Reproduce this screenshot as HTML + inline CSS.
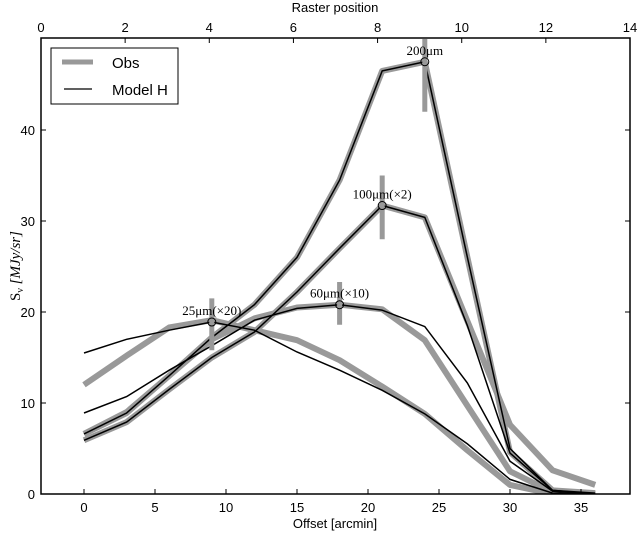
<!DOCTYPE html>
<html><head><meta charset="utf-8"><style>
html,body{margin:0;padding:0;background:#fff;}
svg{display:block;font-family:"Liberation Sans",sans-serif;}
</style></head><body>
<svg id="chart" width="638" height="534" viewBox="0 0 638 534" xmlns="http://www.w3.org/2000/svg"></svg>
<script>
const offsets=[0,3,6,9,12,15,18,21,24,27,30,33,36];
const obs200=[6.6,8.9,13,17.2,20.8,26,34.5,46.5,47.5,26,4.6,0.4,0.1];
const mod200=[6.6,8.9,13,17.2,20.8,26,34.5,46.5,47.5,26,5,0.4,0.1];
const obs100=[5.9,7.9,11.5,15,17.8,22.2,27,31.7,30.4,19,7.6,2.6,1];
const mod100=[5.9,7.9,11.5,15,17.8,22.2,27,31.7,30.4,18.5,4.5,0.4,0];
const obs60=[6.6,9,13,17,19.3,20.5,20.8,20.3,16.9,9.7,2.5,0.2,0];
const mod60=[8.9,10.7,13.6,16.3,19.1,20.4,20.8,20.2,18.4,12.2,3.6,0.3,0];
const obs25=[12,15.2,18.3,19.1,18,16.9,14.7,11.8,8.8,4.8,1,0,0];
const mod25=[15.5,17,18,18.9,18,15.6,13.6,11.4,8.8,5.5,1.6,0.1,0];
const peakIdx=[8,7,6,3];
const peakLabels=["200μm","100μm(×2)","60μm(×10)","25μm(×20)"];
const errLo=[42,28,18.6,15.8];
const errHi=[50,35,23.3,21.5];
const xTicks=[0,5,10,15,20,25,30,35];
const yTicks=[0,10,20,30,40];
const topTicks=[0,2,4,6,8,10,12,14];

const L=41,R=630,T=38,B=494;
const sx=v=>84+14.2*v;
const sy=v=>494-9.1*v;
const stx=v=>L+(R-L)*v/14;
const svg=document.getElementById('chart');
const NS='http://www.w3.org/2000/svg';
function mk(tag,attrs,parent){const e=document.createElementNS(NS,tag);for(const k in attrs)e.setAttribute(k,attrs[k]);(parent||svg).appendChild(e);return e;}
function txt(s,attrs,parent){const e=mk('text',attrs,parent);e.textContent=s;return e;}

const plot=mk('g',{});


const clip=mk('clipPath',{id:'cp'});mk('rect',{x:L,y:T,width:R-L,height:B-T},clip);
const series=[[obs200,mod200,'200'],[obs100,mod100,'100'],[obs60,mod60,'60'],[obs25,mod25,'25']];
const pts=a=>a.map((v,i)=>sx(offsets[i]).toFixed(1)+','+sy(v).toFixed(1)).join(' ');
series.forEach(s=>{
  const g=mk('polyline',{points:pts(s[0]),fill:'none',stroke:'#999',"stroke-width":6,"stroke-linejoin":'round','clip-path':'url(#cp)'},plot);
  
  
});
series.forEach(s=>{
  const g=mk('polyline',{points:pts(s[1]),fill:'none',stroke:'#000',"stroke-width":1.5,'clip-path':'url(#cp)'},plot);
  
  
});
series.forEach((s,k)=>{
  const i=peakIdx[k],x=sx(offsets[i]);
  const eb=mk('line',{x1:x,x2:x,y1:sy(errLo[k]),y2:Math.max(T,sy(errHi[k])),stroke:'#999',"stroke-width":5},plot);
  
  
  const c=mk('circle',{cx:x,cy:sy(s[1][i]),r:4,fill:'none',stroke:'#000',"stroke-width":1},plot);
  
  
  const t=txt(peakLabels[k],{x:x,y:sy(s[1][i])-7,"text-anchor":'middle',"font-size":13,"font-family":'"Liberation Serif",serif'},plot);
  
  
});

const frame=mk('rect',{x:L,y:T,width:R-L,height:B-T,fill:'none',stroke:'#000',"stroke-width":1.5});


xTicks.forEach(v=>{const x=sx(v);mk('line',{x1:x,x2:x,y1:B,y2:B-5,stroke:'#000'});
  const t=txt(String(v),{x:x,y:B+18,"text-anchor":'middle',"font-size":13});
  
  });
yTicks.forEach(v=>{const y=sy(v);mk('line',{x1:L,x2:L+5,y1:y,y2:y,stroke:'#000'});mk('line',{x1:R,x2:R-5,y1:y,y2:y,stroke:'#000'});
  const t=txt(String(v),{x:L-6,y:y+5,"text-anchor":'end',"font-size":13});
  
  });
topTicks.forEach(v=>{const x=stx(v);mk('line',{x1:x,x2:x,y1:T,y2:T+5,stroke:'#000'});
  const t=txt(String(v),{x:x,y:T-6,"text-anchor":'middle',"font-size":13});
  
  });
const xt=txt('Offset [arcmin]',{x:335,y:528,"text-anchor":'middle',"font-size":13});


const tt=txt('Raster position',{x:335,y:12,"text-anchor":'middle',"font-size":13});


const yt=txt('',{transform:'translate(20,266) rotate(-90)',"text-anchor":'middle',"font-size":15,"font-family":'"Liberation Serif",serif'});
yt.innerHTML='<tspan>S</tspan><tspan font-size="10" dy="3">ν</tspan><tspan dy="-3" font-style="italic"> [MJy/sr]</tspan>';



const lg=mk('g',{});


mk('rect',{x:51,y:48,width:127,height:56,fill:'#fff',stroke:'#000',"stroke-width":1},lg);
const l1=mk('line',{x1:62,x2:93,y1:62,y2:62,stroke:'#999',"stroke-width":5},lg);


const lt1=txt('Obs',{x:112,y:68,"font-size":15},lg);


const l2=mk('line',{x1:64,x2:92,y1:89,y2:89,stroke:'#000',"stroke-width":1.2},lg);


const lt2=txt('Model H',{x:112,y:95,"font-size":15},lg);


</script>
</body></html>
